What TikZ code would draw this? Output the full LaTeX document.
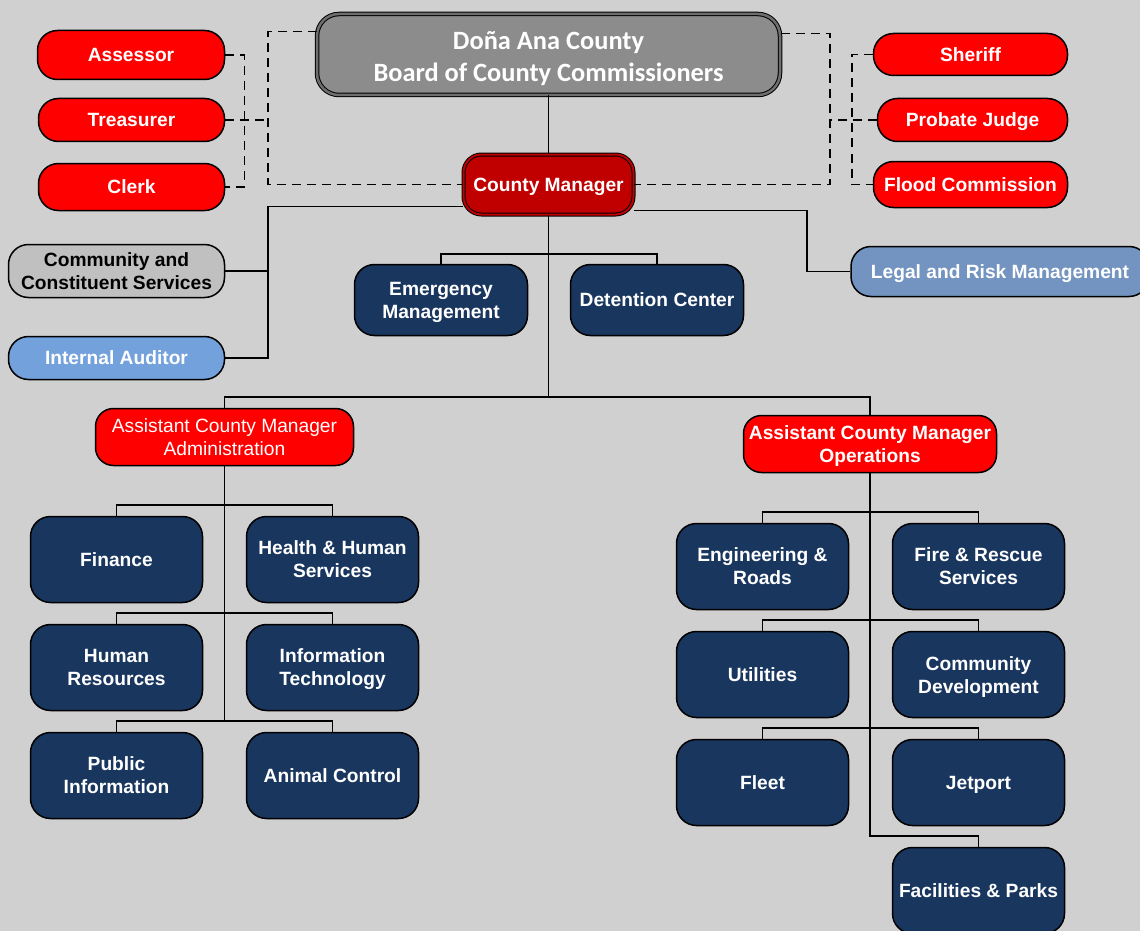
\documentclass[tikz,border=0pt]{standalone}
\usepackage{fontspec}
\setmainfont{Liberation Sans}
\newfontfamily\calibri{Carlito}
\definecolor{pagegray}{HTML}{D0D0D0}
\definecolor{boardgray}{HTML}{8C8C8C}
\definecolor{bandgray}{HTML}{6E6E6E}
\definecolor{mgrred}{HTML}{C00000}
\definecolor{electred}{HTML}{FF0000}
\definecolor{deptnavy}{HTML}{19365F}
\definecolor{staffgray}{HTML}{C0C0C0}
\definecolor{auditblue}{HTML}{72A1DC}
\definecolor{legalblue}{HTML}{7394C1}
\newcommand{\deptstrut}{\rule{0pt}{18pt}}

\begin{document}
\begin{tikzpicture}[x=1pt,y=-1pt,
  box/.style={draw=black, line width=1.5pt, rounded corners=20pt, inner sep=0pt,
    align=center, text=white, font=\fontsize{19.2}{23}\selectfont\bfseries},
  single/.style={text height=13.7pt, text depth=0pt},
  elect/.style={box, single, fill=electred},
  dept/.style={box, fill=deptnavy, minimum width=172pt, minimum height=86pt},
  link/.style={line width=1.5pt},
  dashlink/.style={line width=1.5pt, dash pattern=on 9pt off 6pt}]
  \useasboundingbox (0,0) rectangle (1140,931);
  \clip (0,0) rectangle (1140,931);
  \fill[pagegray] (0,0) rectangle (1140,931);

  \node[box, fill=boardgray, line width=1pt, double=bandgray, double distance=2.5pt,
    minimum width=463pt, minimum height=81pt, rounded corners=22pt,
    font=\calibri\fontsize{26.4}{32}\selectfont\bfseries] (board) at (548.5,54.5)
    {\rule{0pt}{26pt}Doña Ana County\\Board of County Commissioners};
  \node[box, single, fill=mgrred, line width=1pt, double=mgrred, double distance=2pt,
    minimum width=170pt, minimum height=60pt, rounded corners=18pt] (cm) at (548.5,184.5) {County Manager};

  \node[elect, minimum width=187pt, minimum height=49pt] (assessor) at (131,55) {Assessor};
  \node[elect, minimum width=186pt, minimum height=43pt] (treasurer) at (131.5,120) {Treasurer};
  \node[elect, minimum width=186pt, minimum height=47pt] (clerk) at (131.5,187) {Clerk};
  \node[elect, minimum width=194pt, minimum height=42pt] (sheriff) at (970.5,54.5) {Sheriff};
  \node[elect, minimum width=190pt, minimum height=43pt] (probate) at (972.5,120) {Probate Judge};
  \node[elect, minimum width=194pt, minimum height=46pt] (flood) at (970.5,184.5) {Flood Commission};

  \node[box, fill=staffgray, text=black, minimum width=216pt, minimum height=53pt] (community) at (116.5,271)
    {Community and\\Constituent Services};
  \node[box, single, fill=auditblue, minimum width=216pt, minimum height=43pt] (auditor) at (116.5,358) {Internal Auditor};
  \node[box, single, fill=legalblue, minimum width=298pt, minimum height=50pt] (legal) at (1000,271.5)
    {Legal and Risk Management};

  \node[box, fill=deptnavy, minimum width=173pt, minimum height=71pt] (emergency) at (441,300) {\deptstrut Emergency\\Management};
  \node[box, single, fill=deptnavy, minimum width=173pt, minimum height=71pt] (detention) at (657,300) {Detention Center};

  \node[box, fill=electred, minimum width=258pt, minimum height=57pt, rounded corners=18pt,
    font=\fontsize{19.2}{23.5}\selectfont] (acmadmin) at (224.5,437) {Assistant County Manager\\Administration};
  \node[box, fill=electred, minimum width=253pt, minimum height=57pt, rounded corners=18pt] (acmops) at (870,444)
    {\deptstrut Assistant County Manager\\Operations};

  \node[dept, single] (finance) at (116.5,559.5) {Finance};
  \node[dept] (health) at (332.5,559.5) {Health \& Human\\Services};
  \node[dept] (hr) at (116.5,667.5) {Human\\Resources};
  \node[dept] (it) at (332.5,667.5) {\deptstrut Information\\Technology};
  \node[dept] (pubinfo) at (116.5,775.5) {Public\\Information};
  \node[dept, single] (animal) at (332.5,775.5) {Animal Control};

  \node[dept] (eng) at (762.5,566.5) {Engineering \&\\Roads};
  \node[dept] (fire) at (978.5,566.5) {Fire \& Rescue\\Services};
  \node[dept, single] (util) at (762.5,674.5) {Utilities};
  \node[dept] (commdev) at (978.5,674.5) {\deptstrut Community\\Development};
  \node[dept, single] (fleet) at (762.5,782.5) {Fleet};
  \node[dept, single] (jetport) at (978.5,782.5) {Jetport};
  \node[dept, single] (facilities) at (978.5,890.5) {Facilities \& Parks};

  \coordinate (lbus) at (268,0);
  \coordinate (rbus) at (830,0);
  \coordinate (mbus) at (548.5,397);

  \draw[dashlink] ([yshift=23pt]board.west) -| (lbus |- cm.west) -- (cm.west);
  \draw[dashlink] (treasurer.east) -- (treasurer.east -| lbus);
  \draw[dashlink] (assessor.east) -- ++(19,0) |- (clerk.east);
  \draw[dashlink] ([yshift=21pt]board.east) -| (rbus |- cm.east) -- (cm.east);
  \draw[dashlink] (probate.west) -- (probate.west -| rbus);
  \draw[dashlink] (sheriff.west) -- ++(-21,0) |- (flood.west);

  \draw[link] (board.south) -- (cm.north);
  \draw[link] ([yshift=-22pt]cm.west) -| (lbus |- auditor.east) -- (auditor.east);
  \draw[link] (community.east) -- (community.east -| lbus);
  \draw[link] ([yshift=-26pt]cm.east) -- ++(173,0) |- (legal.west);
  \draw[link] (cm.south) -- (mbus);
  \draw[link] (acmadmin.north) |- (mbus) -| (acmops.north);
  \draw[link] (emergency.north) -- ++(0,-10) -| (detention.north);

  \draw[link] (acmadmin.south) -- ([yshift=11pt]acmadmin.south |- pubinfo.north);
  \draw[link] (finance.north) -- ++(0,-11) -| (health.north);
  \draw[link] (hr.north) -- ++(0,-11) -| (it.north);
  \draw[link] (pubinfo.north) -- ++(0,-11) -| (animal.north);

  \draw[link] (acmops.south) -- ([yshift=11pt]acmops.south |- facilities.north) -| (facilities.north);
  \draw[link] (eng.north) -- ++(0,-11) -| (fire.north);
  \draw[link] (util.north) -- ++(0,-11) -| (commdev.north);
  \draw[link] (fleet.north) -- ++(0,-11) -| (jetport.north);
\end{tikzpicture}
\end{document}
